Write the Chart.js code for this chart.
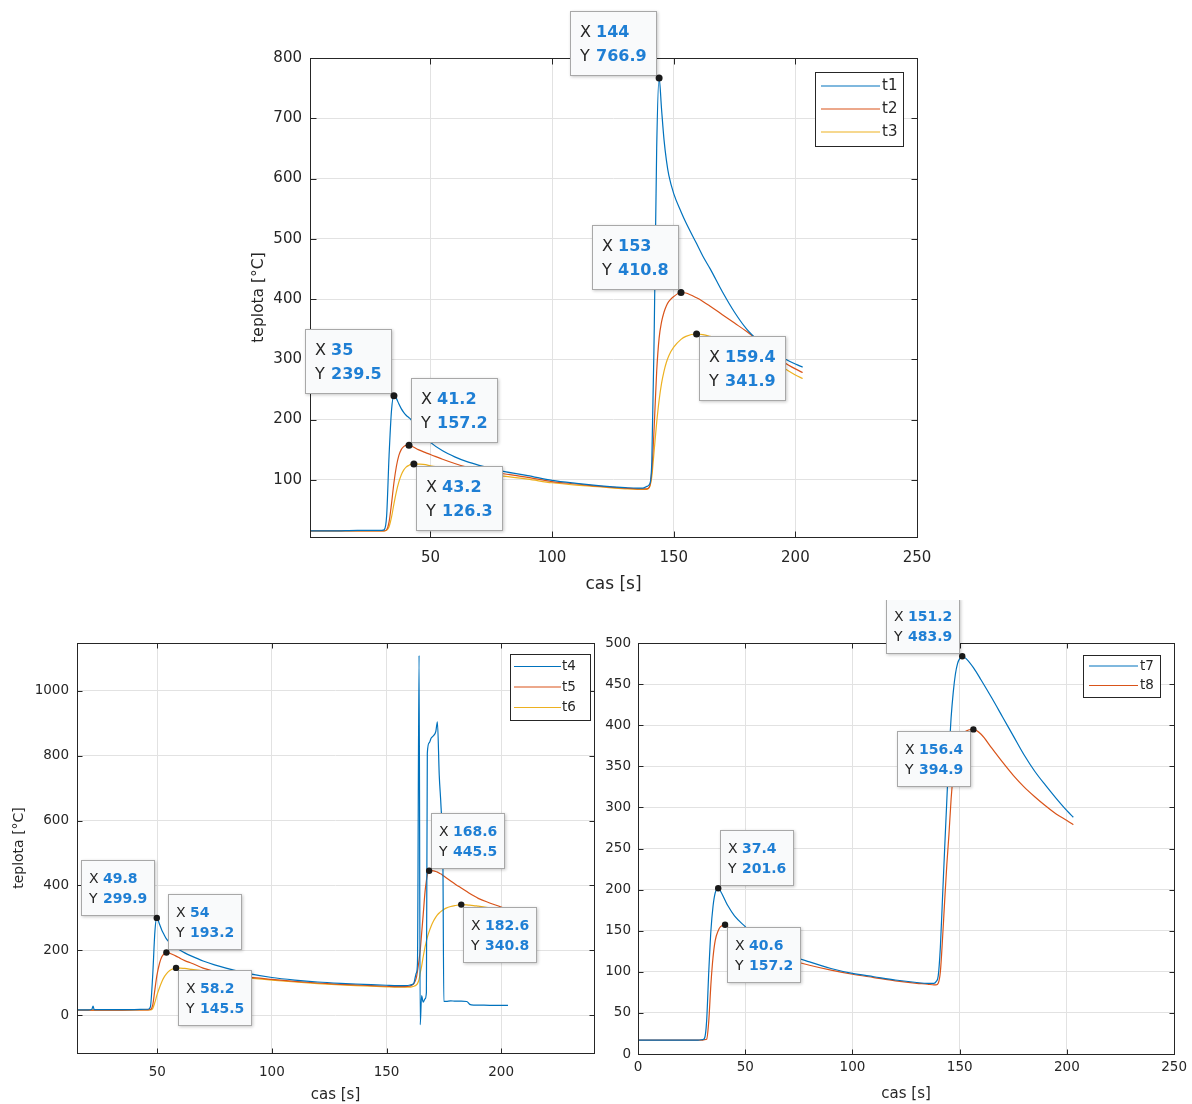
<!DOCTYPE html>
<html>
<head>
<meta charset="utf-8">
<script src="https://cdn.jsdelivr.net/npm/chart.js@4/dist/chart.umd.min.js"></script>
<style>
html,body{margin:0;padding:0;background:#ffffff;}
body{width:1192px;height:1104px;position:relative;overflow:hidden;}
canvas{position:absolute;}
#c1{left:230px;top:0px;width:720px;height:600px;}
#c2{left:0px;top:600px;width:600px;height:504px;}
#c3{left:592px;top:600px;width:600px;height:504px;}
</style>
</head>
<body>
<canvas id="c1" width="720" height="600"></canvas>
<canvas id="c2" width="600" height="504"></canvas>
<canvas id="c3" width="600" height="504"></canvas>
<script>
// ---------------- DATA ----------------
// Top chart (t1, t2, t3)
const time1 = [0.2,10,20,28,30, 31,32,33,34,35, 36,37,38,39,40, 41.2,42,43.2,45,48, 50,55,60,65,70, 80,90,100,110,120, 130,135,137,138,139, 140,141,142,143,144, 145,146,147,148,150, 153,155,159.4,162,165, 170,175,180,185,190, 195,200,203];
const t1 = [15,15,16,16,16, 17,40,140,215,239.5, 235,226,218,212,207, 203,200,192,182,170, 162,148,138,130,124, 114,107,99,94,90, 87,86,86,87,89, 92,130,350,650,766.9, 715,665,630,605,575, 545,527,492,471,450, 412,378,350,330,314, 302,292,287];
const t2 = [15,15,15,15,15, 15,17,30,60,95, 122,140,150,155,157, 157.2,156,154,150,145, 142,134,127,121,116, 110,104,97,93,89, 86,85,85,85,85, 88,115,190,280,335, 362,378,389,396,404, 410.8,410,402,396,388, 374,360,346,330,312, 296,284,278];
const t3 = [15,15,15,15,15, 15,16,22,38,60, 80,96,108,116,121, 124,125.5,126.3,126,125, 123,120,116,112,109, 106,101,95,91,88, 85,84,84,84,84, 87,105,150,195,232, 260,280,295,306,320, 333,338,341.9,341,338, 332,325,317,308,297, 286,274,268];
const xTicks1 = [50,100,150,200,250];
const yTicks1 = [100,200,300,400,500,600,700,800];

// Bottom-left chart (t4, t5, t6)
const time2 = [10,20,21.5,22,22.5, 30,40,45,46,47, 48,49,49.8,51,52, 53,54,55,56,58.2, 60,62,65,70,75, 80,90,100,110,120, 130,140,150,155,158, 160,161,162,163,163.5, 164.2,164.7,165.3,166,166.8, 167.4,167.8,168.6,169.5,170.5, 171.5,172.2,173,173.8,174.6, 175,176,178,180,182.6, 185,186.3,188,190,195, 200,203];
const t4 = [16,16,18,28,17, 17,17,18,18,25, 120,260,299.9,280,262, 248,235,226,218,208, 200,192,182,167,155, 145,128,116,108,102, 98,95,92,91,91, 92,94,100,130,160, 1110,-30,60,40,50, 70,808,840,855,862, 875,905,740,640,470, 42,42,44,43,43, 42,33,31,31,30, 30,30];
const t5 = [15,15,15,15,15, 15,16,16,16,17, 30,80,120,160,180, 189,193.2,192,189,182, 175,168,160,145,135, 127,117,110,104,99, 95,92,89,88,88, 89,92,98,115,135, 170,200,250,310,380, 415,432,445.5,446,445, 443,441,438,435,431, 429,424,414,404,392, 381,375,368,360,346, 333,324];
const t6 = [15,15,15,15,15, 15,16,16,16,16, 20,40,60,85,103, 117,127,135,140,145.5, 145,144,141,136,130, 124,115,108,102,97, 93,90,87,86,86, 86,87,89,93,97, 110,130,150,180,210, 228,240,258,275,290, 302,309,315,320,324, 326,330,335,338,340.8, 340,339,338,336,331, 326,322];
const xTicks2 = [50,100,150,200];
const yTicks2 = [0,200,400,600,800,1000];

// Bottom-right chart (t7, t8)
const time3 = [0,10,20,28,30, 31,32,33,34,35, 36,37.4,38.5,40.6,42, 45,50,55,60,70, 80,90,100,110,120, 130,135,138,139,140, 141,142,143,144,145, 146,147,148,149,150, 151.2,153,156.4,160,165, 170,175,180,185,190, 195,200,203];
const t7 = [17,17,17,17,17.5, 19,40,100,150,180, 196,201.6,198,187,180, 168,155,143,134,121, 112,104,98,94,90, 87,86,86,88,95, 130,190,250,308,365, 409,440,462,475,481, 483.9,481,470,455,433, 410,387,364,344,327, 311,296,288];
const t8 = [17,17,17,17,17, 17.5,18,40,85,118, 138,150,155,157.2,154, 145,135,128,123,115, 108,102,97,93,89, 86,85,84,84,86, 100,140,186,230,267, 310,340,360,375,383, 388,393,394.9,389,372, 355,339,325,313,302, 292,284,279];
const xTicks3 = [0,50,100,150,200,250];
const yTicks3 = [0,50,100,150,200,250,300,350,400,450,500];

// Data tips: series name and x value (y is read from the series)
const tips1 = [['t1',35,'nw'],['t2',41.2,'ne'],['t3',43.2,'se'],['t1',144,'nw'],['t2',153,'nw'],['t3',159.4,'se']];
const tips2 = [['t4',49.8,'nw'],['t5',54,'ne'],['t6',58.2,'se'],['t5',168.6,'ne'],['t6',182.6,'se']];
const tips3 = [['t7',37.4,'ne'],['t8',40.6,'se'],['t7',151.2,'nw'],['t8',156.4,'sw']];

// ---------------- STYLE ----------------
const COLORS = ['#0072BD','#D95319','#EDB120'];
const FONT = "'DejaVu Sans', 'Liberation Sans', sans-serif";
const AXIS = '#262626';
const GRID = '#e2e2e2';
const TIPBLUE = '#1f7fd4';

Chart.defaults.font.family = FONT;
Chart.defaults.color = AXIS;

function fmt(v){ return Number.isInteger(v) ? String(v) : v.toFixed(1); }

const matlabPlugin = {
  id: 'matlab',
  afterDatasetsDraw(chart, args, o) {
    const ctx = chart.ctx, a = chart.chartArea;
    const xs = chart.scales.x, ys = chart.scales.y;
    ctx.save();
    // box
    ctx.strokeStyle = AXIS; ctx.lineWidth = 1;
    const L = Math.round(a.left)+0.5, T = Math.round(a.top)+0.5, R = Math.round(a.right)+0.5, B = Math.round(a.bottom)+0.5;
    ctx.strokeRect(L, T, R-L, B-T);
    // inward tick marks on all sides
    ctx.beginPath();
    xs.ticks.forEach(t => {
      const p = Math.round(xs.getPixelForValue(t.value))+0.5;
      ctx.moveTo(p, B); ctx.lineTo(p, B - o.tickLen);
      ctx.moveTo(p, T); ctx.lineTo(p, T + o.tickLen);
    });
    ys.ticks.forEach(t => {
      const p = Math.round(ys.getPixelForValue(t.value))+0.5;
      ctx.moveTo(L, p); ctx.lineTo(L + o.tickLen, p);
      ctx.moveTo(R, p); ctx.lineTo(R - o.tickLen, p);
    });
    ctx.stroke();

    // data tips
    const tp = o.tip;
    ctx.textBaseline = 'middle';
    o.tips.forEach(([name, xv, pos]) => {
      const ds = chart.data.datasets.find(d => d.label === name);
      const pt = ds.data.find(p => p.x === xv);
      const px = xs.getPixelForValue(pt.x), py = ys.getPixelForValue(pt.y);
      const sx = fmt(pt.x), sy = fmt(pt.y);
      ctx.font = tp.size + 'px ' + FONT;
      const lw = Math.max(ctx.measureText('X ').width, ctx.measureText('Y ').width);
      ctx.font = 'bold ' + tp.size + 'px ' + FONT;
      const vw = Math.max(ctx.measureText(sx).width, ctx.measureText(sy).width);
      const w = Math.round(lw + vw + 2*tp.padX), h = tp.h;
      const bx = Math.round(pos.includes('w') ? px - tp.gap - w : px + tp.gap);
      const by = Math.round(pos.includes('n') ? py - tp.gap - h : py + tp.gap);
      ctx.save();
      ctx.shadowColor = 'rgba(0,0,0,0.22)'; ctx.shadowBlur = 3; ctx.shadowOffsetX = 1; ctx.shadowOffsetY = 1;
      ctx.fillStyle = '#f9fafb';
      ctx.fillRect(bx, by, w, h);
      ctx.restore();
      ctx.strokeStyle = '#a8a8a8'; ctx.lineWidth = 1;
      ctx.strokeRect(bx+0.5, by+0.5, w-1, h-1);
      ctx.textAlign = 'left';
      ctx.font = tp.size + 'px ' + FONT; ctx.fillStyle = AXIS;
      ctx.fillText('X', bx + tp.padX, by + tp.l1);
      ctx.fillText('Y', bx + tp.padX, by + tp.l2);
      ctx.font = 'bold ' + tp.size + 'px ' + FONT; ctx.fillStyle = TIPBLUE;
      ctx.fillText(sx, bx + tp.padX + lw, by + tp.l1);
      ctx.fillText(sy, bx + tp.padX + lw, by + tp.l2);
      ctx.beginPath(); ctx.fillStyle = '#1a1a1a';
      ctx.arc(px, py, tp.dot, 0, Math.PI*2); ctx.fill();
    });

    // legend
    const lg = o.legend;
    ctx.font = lg.size + 'px ' + FONT;
    const tw = Math.max(...chart.data.datasets.map(d => ctx.measureText(d.label).width));
    const lwid = Math.round(lg.padL + lg.lineLen + lg.gap + tw + lg.padR);
    const n = chart.data.datasets.length;
    const lh = Math.round(2*lg.row0 + lg.rowH*(n-1));
    const lx = Math.round(a.right - lg.insetR - lwid), ly = Math.round(a.top + lg.insetT);
    ctx.fillStyle = '#ffffff';
    ctx.fillRect(lx, ly, lwid, lh);
    ctx.strokeStyle = AXIS; ctx.lineWidth = 1;
    ctx.strokeRect(lx+0.5, ly+0.5, lwid, lh);
    chart.data.datasets.forEach((d, i) => {
      const yy = ly + lg.row0 + lg.rowH*i;
      ctx.beginPath(); ctx.strokeStyle = d.borderColor; ctx.lineWidth = 1.2;
      ctx.moveTo(lx + lg.padL, yy); ctx.lineTo(lx + lg.padL + lg.lineLen, yy); ctx.stroke();
      ctx.fillStyle = AXIS; ctx.textAlign = 'left'; ctx.textBaseline = 'middle';
      ctx.fillText(d.label, lx + lg.padL + lg.lineLen + lg.gap, yy);
    });
    ctx.restore();
  }
};

function series(label, times, vals, i) {
  return {
    label: label,
    data: times.map((x, k) => ({x: x, y: vals[k]})),
    borderColor: COLORS[i],
    borderWidth: 1.2,
    pointRadius: 0,
    fill: false,
    cubicInterpolationMode: 'monotone'
  };
}

function makeChart(id, datasets, s) {
  return new Chart(document.getElementById(id), {
    type: 'line',
    data: { datasets: datasets },
    plugins: [matlabPlugin],
    options: {
      responsive: false,
      animation: false,
      events: [],
      layout: { padding: { left: 0, top: s.padTop, right: s.padRight, bottom: 0 } },
      plugins: {
        legend: { display: false },
        tooltip: { enabled: false },
        matlab: { tickLen: s.tickLen, tips: s.tips, tip: s.tip, legend: s.legend }
      },
      scales: {
        x: {
          type: 'linear', min: s.xmin, max: s.xmax,
          afterBuildTicks: sc => { sc.ticks = s.xTicks.map(v => ({value: v})); },
          afterFit: sc => { sc.height = s.xH; },
          grid: { color: GRID, lineWidth: 1, drawTicks: false },
          border: { display: false },
          ticks: { font: { size: s.tickSize }, color: AXIS, padding: s.xPad, maxRotation: 0, autoSkip: false, callback: v => String(v) },
          title: { display: true, text: 'cas [s]', font: { size: s.titleSize }, color: AXIS, padding: { top: 0, bottom: s.xTitlePad } }
        },
        y: {
          type: 'linear', min: s.ymin, max: s.ymax,
          afterBuildTicks: sc => { sc.ticks = s.yTicks.map(v => ({value: v})); },
          afterFit: sc => { sc.width = s.yW; },
          grid: { color: GRID, lineWidth: 1, drawTicks: false },
          border: { display: false },
          ticks: { font: { size: s.tickSize }, color: AXIS, padding: s.yPad, autoSkip: false, callback: v => String(v) },
          title: { display: s.yTitle !== '', text: s.yTitle, font: { size: s.yTitleSize }, color: AXIS, padding: { top: s.yTitlePad, bottom: 0 } }
        }
      }
    }
  });
}

makeChart('c1', [series('t1', time1, t1, 0), series('t2', time1, t2, 1), series('t3', time1, t3, 2)], {
  padTop: 58, padRight: 33, xH: 63, yW: 80,
  xmin: 0.5, xmax: 250, ymin: 5, ymax: 800, xTicks: xTicks1, yTicks: yTicks1,
  tickSize: 15, xPad: 12, yPad: 8, titleSize: 17, xTitlePad: 5, yTitle: 'teplota [°C]', yTitleSize: 15.5, yTitlePad: 20,
  tickLen: 6, tips: tips1,
  tip: { size: 16, padX: 10, h: 65, l1: 22, l2: 46, gap: 2, dot: 3.5 },
  legend: { size: 15, insetR: 14, insetT: 14, padL: 6, lineLen: 59, gap: 2, padR: 6, row0: 14, rowH: 23 }
});

makeChart('c2', [series('t4', time2, t4, 0), series('t5', time2, t5, 1), series('t6', time2, t6, 2)], {
  padTop: 43, padRight: 6, xH: 51, yW: 77,
  xmin: 15, xmax: 240.5, ymin: -117, ymax: 1148, xTicks: xTicks2, yTicks: yTicks2,
  tickSize: 13.5, xPad: 11, yPad: 8, titleSize: 15, xTitlePad: 0, yTitle: 'teplota [°C]', yTitleSize: 14, yTitlePad: 11,
  tickLen: 5, tips: tips2,
  tip: { size: 14, padX: 8, h: 56, l1: 19, l2: 39, gap: 2, dot: 3.2 },
  legend: { size: 13.5, insetR: 4, insetT: 11, padL: 4, lineLen: 47, gap: 1, padR: 14, row0: 12.5, rowH: 20.5 }
});

makeChart('c3', [series('t7', time3, t7, 0), series('t8', time3, t8, 1)], {
  padTop: 43, padRight: 15, xH: 50, yW: 46,
  xmin: 0, xmax: 250, ymin: 0, ymax: 500, xTicks: xTicks3, yTicks: yTicks3,
  tickSize: 13.5, xPad: 5, yPad: 7, titleSize: 15, xTitlePad: 1, yTitle: '', yTitleSize: 14, yTitlePad: 0,
  tickLen: 5, tips: tips3,
  tip: { size: 14, padX: 8, h: 56, l1: 19, l2: 39, gap: 2, dot: 3.2 },
  legend: { size: 13.5, insetR: 14, insetT: 12, padL: 6, lineLen: 49, gap: 2, padR: 6, row0: 11, rowH: 19.5 }
});
</script>
</body>
</html>
